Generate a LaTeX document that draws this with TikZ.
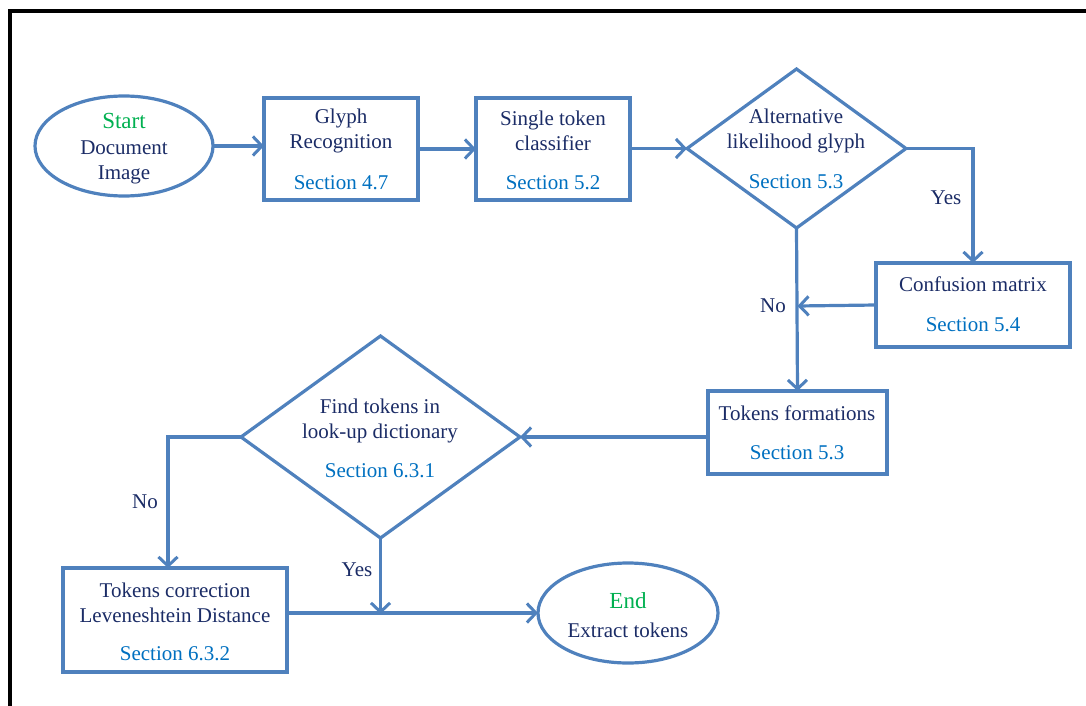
\documentclass[tikz,border=0pt]{standalone}
\usepackage{fontspec}
\setmainfont{Liberation Serif}
\usetikzlibrary{shapes.geometric,arrows.meta}
\definecolor{flowline}{HTML}{4F81BD}
\definecolor{navytext}{HTML}{1B2C66}
\definecolor{sectext}{HTML}{0070C0}
\definecolor{startgreen}{HTML}{00B050}
\tikzset{
  shapebox/.style={draw=flowline, line width=3.2pt, rectangle, inner sep=0pt, outer sep=0pt},
  terminal/.style={draw=flowline, line width=3.2pt, ellipse, inner sep=0pt, outer sep=0pt,
                   minimum width=178pt, minimum height=100pt},
  decision/.style={draw=flowline, line width=3.2pt, diamond, inner sep=0pt, outer sep=0pt},
  txt/.style={text=navytext, font=\fontsize{21pt}{25.5pt}\selectfont, align=center, inner sep=0pt},
  sec/.style={text=sectext, font=\fontsize{21pt}{25.5pt}\selectfont, inner sep=0pt},
  tag/.style={text=startgreen, font=\fontsize{23pt}{27pt}\selectfont, inner sep=0pt},
  flow/.style={draw=flowline, line width=3.2pt, -{Straight Barb[length=9pt,width=19pt,line width=3pt]}},
}
\begin{document}
\begin{tikzpicture}[x=1pt, y=-1pt]
\useasboundingbox (0,0) rectangle (1086,706);
% outer frame (top and left edges only)
\draw[line width=3.5pt, black] (10,706) coordinate (fbl) -- (10,11) coordinate (ftl) -- (1086,11) coordinate (ftr);

% shapes
\node[terminal] (start) at (124,146) {};
\node[shapebox, minimum width=154pt, minimum height=102pt] (glyph) at (341,149) {};
\node[shapebox, minimum width=154pt, minimum height=102pt] (single) at (553,149) {};
\node[decision, minimum width=219pt, minimum height=159pt] (alt) at (796.5,148.5) {};
\node[shapebox, minimum width=194pt, minimum height=84pt] (conf) at (973,305) {};
\node[shapebox, minimum width=179pt, minimum height=83pt] (form) at (797.5,432.5) {};
\node[decision, minimum width=279pt, minimum height=202pt] (find) at (380.5,437) {};
\node[shapebox, minimum width=224pt, minimum height=104pt] (corr) at (175,620) {};
\node[terminal, minimum width=180pt] (end) at (628,613) {};

% texts
\node[tag] (startlbl) at (124,121) {Start};
\node[txt] (starttxt) at (124,162.5) {Document\\Image};
\node[txt] (glyphtxt) at (341,131) {Glyph\\Recognition};
\node[sec] (glyphsec) at (341,183) {Section 4.7};
\node[txt] (singletxt) at (553,131) {Single token\\classifier};
\node[sec] (singlesec) at (553,183) {Section 5.2};
\node[txt] (alttxt) at (796,131) {Alternative\\likelihood glyph};
\node[sec] (altsec) at (796,182) {Section 5.3};
\node[txt] (conftxt) at (973,284) {Confusion matrix};
\node[sec] (confsec) at (973,325) {Section 5.4};
\node[txt] (formtxt) at (797,413) {Tokens formations};
\node[sec] (formsec) at (797,453) {Section 5.3};
\node[txt] (findtxt) at (380,421) {Find tokens in\\look-up dictionary};
\node[sec] (findsec) at (380,471) {Section 6.3.1};
\node[txt] (corrtxt) at (175,603) {Tokens correction\\Leveneshtein Distance};
\node[sec] (corrsec) at (175,654) {Section 6.3.2};
\node[tag] (endlbl) at (628,601) {End};
\node[txt] (endtxt) at (628,630) {Extract tokens};

% branch labels
\node[txt] (yes1) at (946,198) {Yes};
\node[txt] (no1) at (773,306) {No};
\node[txt] (no2) at (145,502) {No};
\node[txt] (yes2) at (357,570) {Yes};

% junction points on the vertical connectors
\coordinate (join1) at (797.5,306);
\coordinate (join2) at (380.5,614);

% connectors
\draw[flow] (start.east) -- (start.east -| glyph.west);
\draw[flow] (glyph.east |- single.west) -- (single.west);
\draw[flow] (single.east |- alt.west) -- (alt.west);
\draw[flow] (alt.east) -| (conf.north);
\draw[flow] (alt.south) -- (form.north);
\draw[flow] (conf.west) -- (join1);
\draw[flow] (form.west |- find.east) -- (find.east);
\draw[flow] (find.west) -| ([xshift=-7pt]corr.north);
\draw[flow] (find.south) -- (join2);
\draw[flow] (corr.east |- end.west) -- (end.west);
\end{tikzpicture}
\end{document}
